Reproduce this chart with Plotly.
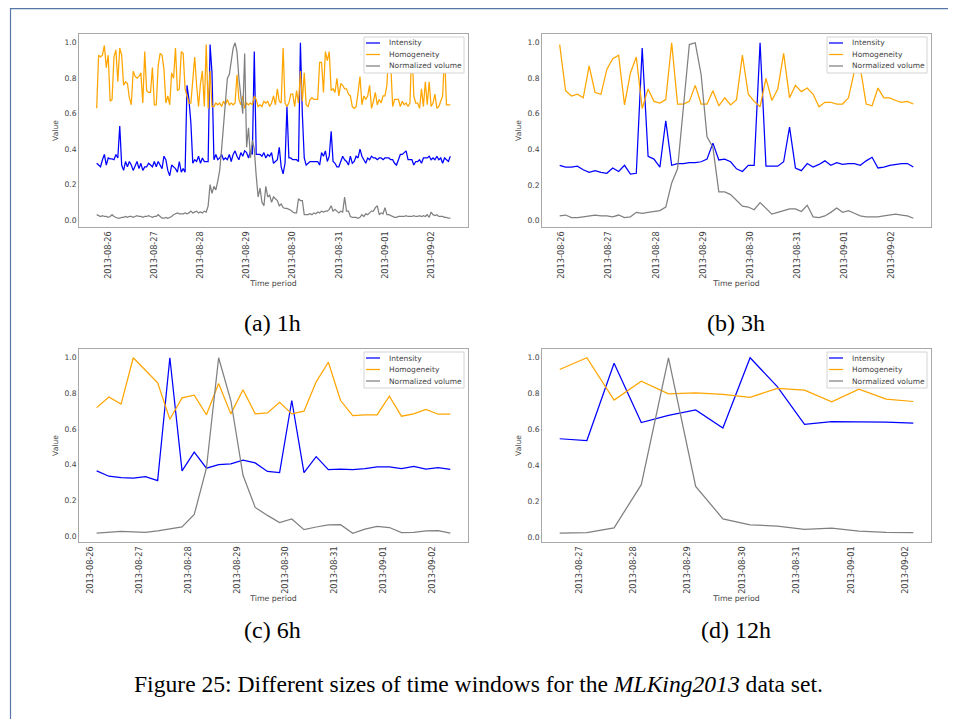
import plotly.graph_objects as go
import pandas as pd

# ---------------- data ----------------
series_names = ["Intensity", "Homogeneity", "Normalized volume"]
date_ticks_start = "2013-08-26"

# (a) 1h windows
start_1h = "2013-08-25 18:00"
intensity_1h = [
    0.32, 0.31, 0.30, 0.34, 0.37, 0.31, 0.35, 0.345, 0.345, 0.34,
    0.37, 0.35, 0.53, 0.31, 0.28, 0.33, 0.30, 0.33, 0.31, 0.28,
    0.31, 0.33, 0.29, 0.32, 0.28, 0.30, 0.30, 0.32, 0.31, 0.30,
    0.33, 0.30, 0.33, 0.31, 0.29, 0.36, 0.34, 0.28, 0.25, 0.31,
    0.30, 0.29, 0.27, 0.33, 0.27, 0.29, 0.27, 0.76, 0.68, 0.55,
    0.32, 0.34, 0.33, 0.36, 0.32, 0.35, 0.33, 0.33, 0.33, 0.99,
    0.83, 0.34, 0.37, 0.34, 0.35, 0.37, 0.34, 0.35, 0.34, 0.37,
    0.33, 0.37, 0.39, 0.36, 0.34, 0.38, 0.36, 0.39, 0.38, 0.35,
    0.39, 0.37, 0.95, 0.37, 0.37, 0.37, 0.36, 0.38, 0.35, 0.37,
    0.36, 0.38, 0.32, 0.33, 0.34, 0.41, 0.30, 0.26, 0.32, 0.64,
    0.35, 0.35, 0.34, 0.34, 0.34, 0.33, 1.00, 0.60, 0.35, 0.31,
    0.32, 0.33, 0.33, 0.33, 0.33, 0.33, 0.31, 0.38, 0.36, 0.39,
    0.33, 0.36, 0.50, 0.33, 0.32, 0.30, 0.30, 0.33, 0.36, 0.34,
    0.33, 0.31, 0.36, 0.32, 0.33, 0.36, 0.35, 0.40, 0.36, 0.34,
    0.32, 0.35, 0.34, 0.36, 0.35, 0.35, 0.34, 0.35, 0.35, 0.34,
    0.35, 0.35, 0.35, 0.34, 0.34, 0.32, 0.31, 0.34, 0.37, 0.37,
    0.38, 0.39, 0.34, 0.34, 0.34, 0.31, 0.33, 0.33, 0.34, 0.32,
    0.35, 0.35, 0.35, 0.36, 0.34, 0.35, 0.34, 0.36, 0.34, 0.35,
    0.32, 0.35, 0.34, 0.33, 0.36,
]
homogeneity_1h = [
    0.63, 0.93, 0.92, 0.93, 0.985, 0.86, 0.93, 0.67, 0.68, 0.92,
    0.96, 0.78, 0.97, 0.93, 0.76, 0.78, 0.77, 0.69, 0.65, 0.84,
    0.81, 0.80, 0.81, 0.83, 0.66, 0.95, 0.73, 0.72, 0.72, 0.86,
    0.65, 0.65, 0.87, 0.94, 0.93, 0.85, 0.66, 0.70, 0.65, 0.83,
    0.80, 0.97, 0.73, 0.74, 0.95, 0.94, 0.74, 0.70, 0.66, 0.66,
    0.80, 0.92, 0.76, 0.64, 0.77, 0.84, 0.64, 0.99, 0.63, 0.84,
    0.64, 0.64, 0.66, 0.65, 0.66, 0.64, 0.67, 0.65, 0.68, 0.65,
    0.66, 0.65, 0.66, 0.82, 0.68, 0.65, 0.70, 0.63, 0.66, 0.65,
    0.66, 0.65, 0.70, 0.68, 0.64, 0.65, 0.64, 0.67, 0.66, 0.67,
    0.64, 0.66, 0.70, 0.65, 0.74, 0.67, 0.66, 0.97, 0.66, 0.64,
    0.66, 0.71, 0.71, 0.64, 0.73, 0.66, 0.84, 0.67, 0.83, 0.65,
    0.64, 0.68, 0.69, 0.68, 0.68, 0.68, 0.89, 0.89, 0.72, 0.95,
    0.90, 0.95, 0.73, 0.74, 0.72, 0.80, 0.70, 0.77, 0.76, 0.74,
    0.74, 0.71, 0.70, 0.64, 0.63, 0.64, 0.72, 0.81, 0.65, 0.70,
    0.68, 0.70, 0.76, 0.63, 0.67, 0.72, 0.65, 0.68, 0.66, 0.70,
    0.70, 0.76, 0.97, 0.88, 0.64, 0.68, 0.68, 0.68, 0.64, 0.67,
    0.65, 0.66, 0.64, 0.66, 0.99, 0.70, 0.66, 0.66, 0.63, 0.74,
    0.64, 0.78, 0.65, 0.78, 0.64, 0.66, 0.71, 0.63, 0.64, 0.67,
    0.70, 0.94, 0.65, 0.65, 0.65,
]
volume_1h = [
    0.03, 0.025, 0.02, 0.025, 0.02, 0.02, 0.015, 0.02, 0.03, 0.02,
    0.015, 0.01, 0.01, 0.015, 0.015, 0.02, 0.015, 0.02, 0.02, 0.015,
    0.02, 0.025, 0.02, 0.02, 0.015, 0.02, 0.02, 0.025, 0.02, 0.015,
    0.02, 0.02, 0.03, 0.02, 0.01, 0.01, 0.015, 0.01, 0.015, 0.02,
    0.03, 0.035, 0.04, 0.035, 0.035, 0.035, 0.04, 0.035, 0.04, 0.05,
    0.04, 0.045, 0.05, 0.04, 0.045, 0.04, 0.05, 0.045, 0.08, 0.20,
    0.15, 0.19, 0.17, 0.22, 0.28, 0.40, 0.55, 0.70, 0.80, 0.82,
    0.90, 0.97, 1.00, 0.95, 0.80, 0.70, 0.60, 0.94, 0.41, 0.52,
    0.35, 0.45, 0.40, 0.25, 0.13, 0.18, 0.10, 0.08, 0.19, 0.13,
    0.14, 0.10, 0.13, 0.12, 0.11, 0.08, 0.09, 0.07, 0.065, 0.065,
    0.06, 0.055, 0.045, 0.04, 0.04, 0.12, 0.11, 0.11, 0.03, 0.03,
    0.03, 0.035, 0.03, 0.04, 0.035, 0.045, 0.04, 0.05, 0.045, 0.05,
    0.05, 0.06, 0.08, 0.05, 0.06, 0.05, 0.04, 0.05, 0.045, 0.13,
    0.05, 0.05, 0.02, 0.015, 0.015, 0.015, 0.01, 0.015, 0.03, 0.02,
    0.035, 0.03, 0.04, 0.05, 0.05, 0.07, 0.08, 0.03, 0.04, 0.035,
    0.07, 0.03, 0.03, 0.025, 0.02, 0.015, 0.015, 0.02, 0.02, 0.02,
    0.02, 0.025, 0.02, 0.02, 0.02, 0.025, 0.02, 0.02, 0.025, 0.02,
    0.025, 0.02, 0.03, 0.015, 0.045, 0.03, 0.025, 0.03, 0.02, 0.02,
    0.02, 0.015, 0.015, 0.01, 0.01,
]

# (b) 3h windows
start_3h = "2013-08-25 23:00"
intensity_3h = [
    0.31, 0.30, 0.30, 0.305, 0.285, 0.27, 0.28, 0.27, 0.265, 0.295,
    0.275, 0.31, 0.26, 0.265, 0.97, 0.36, 0.345, 0.30, 0.56, 0.31,
    0.32, 0.32, 0.325, 0.325, 0.33, 0.345, 0.435, 0.34, 0.345, 0.33,
    0.29, 0.275, 0.31, 0.31, 1.00, 0.305, 0.305, 0.305, 0.33, 0.525,
    0.295, 0.28, 0.32, 0.30, 0.315, 0.335, 0.31, 0.325, 0.315, 0.32,
    0.32, 0.31, 0.335, 0.355, 0.295, 0.30, 0.31, 0.315, 0.32, 0.32,
    0.30,
]
homogeneity_3h = [
    0.99, 0.73, 0.70, 0.71, 0.69, 0.87, 0.72, 0.71, 0.85, 0.91,
    0.93, 0.65, 0.83, 0.92, 0.63, 0.74, 0.67, 0.66, 0.68, 1.00,
    0.655, 0.655, 0.67, 0.76, 0.655, 0.655, 0.73, 0.645, 0.69, 0.65,
    0.68, 0.93, 0.71, 0.67, 0.64, 0.80, 0.675, 0.74, 0.94, 0.69,
    0.76, 0.725, 0.745, 0.71, 0.64, 0.665, 0.665, 0.655, 0.655, 0.69,
    0.84, 0.86, 0.655, 0.645, 0.745, 0.69, 0.69, 0.675, 0.665, 0.67,
    0.655,
]
volume_3h = [
    0.025, 0.03, 0.015, 0.015, 0.02, 0.025, 0.03, 0.025, 0.025, 0.02,
    0.03, 0.015, 0.02, 0.045, 0.04, 0.045, 0.05, 0.055, 0.075, 0.21,
    0.29, 0.65, 0.99, 1.00, 0.82, 0.47, 0.41, 0.16, 0.16, 0.145,
    0.11, 0.08, 0.075, 0.06, 0.10, 0.07, 0.035, 0.045, 0.055, 0.065,
    0.065, 0.05, 0.085, 0.02, 0.015, 0.025, 0.045, 0.07, 0.045, 0.055,
    0.04, 0.025, 0.02, 0.02, 0.02, 0.025, 0.03, 0.035, 0.03, 0.025,
    0.012,
]

# (c) 6h windows
start_6h = "2013-08-26 03:00"
intensity_6h = [
    0.365, 0.335, 0.327, 0.325, 0.333, 0.31, 1.00, 0.365, 0.47, 0.38,
    0.40, 0.405, 0.425, 0.41, 0.362, 0.355, 0.76, 0.355, 0.445, 0.372,
    0.375, 0.372, 0.378, 0.387, 0.388, 0.378, 0.39, 0.375, 0.383, 0.373,
]
homogeneity_6h = [
    0.72, 0.78, 0.74, 1.00, 0.93, 0.86, 0.655, 0.775, 0.79, 0.68,
    0.855, 0.685, 0.82, 0.685, 0.69, 0.75, 0.685, 0.70, 0.865, 0.975,
    0.76, 0.675, 0.68, 0.68, 0.785, 0.672, 0.685, 0.71, 0.683, 0.683,
]
volume_6h = [
    0.015, 0.02, 0.025, 0.022, 0.02, 0.028, 0.04, 0.05, 0.12, 0.38,
    1.00, 0.76, 0.34, 0.16, 0.115, 0.075, 0.095, 0.035, 0.05, 0.062,
    0.063, 0.015, 0.038, 0.053, 0.047, 0.018, 0.02, 0.028, 0.03, 0.015,
]

# (d) 12h windows
start_12h = "2013-08-26 15:30"
intensity_12h = [0.55, 0.54, 0.97, 0.64, 0.68, 0.71, 0.61, 1.00, 0.84, 0.63,
                 0.645, 0.645, 0.643, 0.637]
homogeneity_12h = [0.935, 1.00, 0.765, 0.87, 0.80, 0.805, 0.797, 0.78, 0.83, 0.82,
                   0.755, 0.825, 0.77, 0.757]
volume_12h = [0.025, 0.028, 0.055, 0.295, 1.00, 0.285, 0.105, 0.072, 0.065, 0.047,
              0.053, 0.037, 0.03, 0.028]

subcaptions = ["(a) 1h", "(b) 3h", "(c) 6h", "(d) 12h"]
caption_html = "Figure 25: Different sizes of time windows for the <i>MLKing2013</i> data set."

# ---------------- layout helpers ----------------
# The page body has an 8px margin, so the figure is drawn at (8, 8) in the window.
OFF = 8
W, H = 956 - OFF, 719 - OFF


def fx(px):
    return (px - OFF) / W


def fy(py):
    return 1 - (py - OFF) / H


panels = [
    dict(start=start_1h, freq="1h", data=[intensity_1h, homogeneity_1h, volume_1h],
         box=(79, 468, 34, 227)),
    dict(start=start_3h, freq="3h", data=[intensity_3h, homogeneity_3h, volume_3h],
         box=(542, 931, 34, 227)),
    dict(start=start_6h, freq="6h", data=[intensity_6h, homogeneity_6h, volume_6h],
         box=(79, 468, 349, 542)),
    dict(start=start_12h, freq="12h", data=[intensity_12h, homogeneity_12h, volume_12h],
         box=(542, 931, 349, 542)),
]
colors = ["#0000ff", "#ffa500", "#808080"]
tick_color = "#444444"
spine_color = "#a8a8a8"
chart_font = "DejaVu Sans"
serif_font = "Liberation Serif"

fig = go.Figure()
annotations = []
shapes = []
layout = dict(
    width=W, height=H, autosize=False,
    margin=dict(l=0, r=0, t=0, b=0),
    paper_bgcolor="white", plot_bgcolor="white",
    font=dict(family=chart_font, size=8, color=tick_color),
    template="none", showlegend=False,
)

for n, p in enumerate(panels, start=1):
    sfx = "" if n == 1 else str(n)
    t = pd.date_range(p["start"], periods=len(p["data"][0]), freq=p["freq"])
    for name, ys, col in zip(series_names, p["data"], colors):
        fig.add_trace(go.Scatter(
            x=t, y=ys, mode="lines", name=name,
            line=dict(color=col, width=1.25),
            xaxis="x" + sfx, yaxis="y" + sfx, showlegend=False,
        ))
    x0, x1, y0, y1 = p["box"]
    span = t[-1] - t[0]
    xr = [t[0] - span * 0.05, t[-1] + span * 0.05]
    allv = [v for s in p["data"] for v in s]
    vmin, vmax = min(allv), max(allv)
    vr = vmax - vmin
    yr = [vmin - 0.05 * vr, vmax + 0.05 * vr]
    layout["xaxis" + sfx] = dict(
        domain=[fx(x0), fx(x1)], anchor="y" + sfx, type="date",
        range=[xr[0].strftime("%Y-%m-%d %H:%M:%S"), xr[1].strftime("%Y-%m-%d %H:%M:%S")],
        tick0=date_ticks_start, dtick=86400000, tickformat="%Y-%m-%d",
        tickangle=-90, tickfont=dict(size=8.2, color=tick_color, family=chart_font),
        showgrid=False, zeroline=False, showline=True, mirror=True,
        linecolor=spine_color, linewidth=1, ticks="",
        title=dict(text="Time period", font=dict(size=7.8, color=tick_color), standoff=2),
        automargin=False,
    )
    layout["yaxis" + sfx] = dict(
        domain=[fy(y1), fy(y0)], anchor="x" + sfx,
        range=yr, tick0=0, dtick=0.2, tickformat=".1f",
        tickfont=dict(size=7.6, color=tick_color, family=chart_font),
        showgrid=False, zeroline=False, showline=True, mirror=True,
        linecolor=spine_color, linewidth=1, ticks="",
        title=dict(text="Value", font=dict(size=7.6, color=tick_color), standoff=4),
        automargin=False,
    )
    # legend box (matplotlib style: short line samples, compact rows)
    lx0, lx1 = x0 + 285, x1 - 4
    ly0, ly1 = y0 + 3, y0 + 39
    shapes.append(dict(
        type="rect", xref="paper", yref="paper",
        x0=fx(lx0), x1=fx(lx1), y0=fy(ly1), y1=fy(ly0),
        line=dict(color="#d4d4d4", width=1), fillcolor="white", layer="above",
    ))
    for k, (name, col) in enumerate(zip(series_names, colors)):
        yy = y0 + 9 + k * 11.5
        shapes.append(dict(
            type="line", xref="paper", yref="paper",
            x0=fx(x0 + 287), x1=fx(x0 + 301), y0=fy(yy), y1=fy(yy),
            line=dict(color=col, width=1.25), layer="above",
        ))
        annotations.append(dict(
            text=name, xref="paper", yref="paper",
            x=fx(x0 + 308), y=fy(yy), xanchor="left", yanchor="middle",
            showarrow=False,
            font=dict(size=7.5, color=tick_color, family=chart_font),
        ))
    annotations.append(dict(
        text=subcaptions[n - 1], xref="paper", yref="paper",
        x=fx((x0 + x1) / 2 - 1), y=fy(323 if n <= 2 else 630),
        xanchor="center", yanchor="middle", showarrow=False,
        font=dict(family=serif_font, size=24, color="black"),
    ))

annotations.append(dict(
    text=caption_html, xref="paper", yref="paper",
    x=fx(478), y=fy(684), xanchor="center", yanchor="middle", showarrow=False,
    font=dict(family=serif_font, size=23.6, color="black"),
))
shapes.append(dict(
    type="rect", xref="paper", yref="paper",
    x0=fx(10.5), x1=1.05, y0=-0.05, y1=fy(8.6),
    line=dict(color="#5677a8", width=1.2), fillcolor="rgba(0,0,0,0)",
))
layout["annotations"] = annotations
layout["shapes"] = shapes

fig.update_layout(**layout)
fig.write_html("out.html")
